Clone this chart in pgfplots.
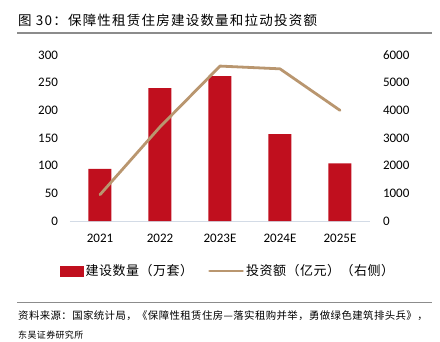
\documentclass[border=0pt]{standalone}
\usepackage{pgfplots}
\pgfplotsset{compat=1.18}
\usepackage{fontspec}
\setmainfont{Carlito}
\newfontfamily\cjk{Noto Sans CJK SC}
\newfontfamily\cjkwide[LetterSpace=9]{Noto Sans CJK SC}
\newfontfamily\cjkmid[LetterSpace=4]{Noto Sans CJK SC}
\definecolor{barred}{HTML}{C00F1E}
\definecolor{linetan}{HTML}{B9966F}
\definecolor{axisgray}{HTML}{D3DBE6}
\begin{document}
\begin{tikzpicture}[x=1pt,y=1pt]
\path[use as bounding box] (0,0) rectangle (440,341);
\node[anchor=west, inner sep=0pt, font=\cjkwide\fontsize{13.5}{13.5}\selectfont] at (18,321) {图 30：保障性租赁住房建设数量和拉动投资额};
\draw[black!45, line width=1.2pt] (17,308) -- (432,308);
\draw[black!45, line width=1.2pt] (17,38.5) -- (432,38.5);
\node[anchor=west, inner sep=0pt, font=\cjkmid\fontsize{10.4}{10.4}\selectfont] at (18,25) {资料来源：国家统计局，《保障性租赁住房—落实租购并举，勇做绿色建筑排头兵》，};
\node[anchor=west, inner sep=0pt, font=\cjkmid\fontsize{9}{9}\selectfont] at (18,6) {东吴证券研究所};
\begin{axis}[
  at={(70pt,120pt)}, anchor=south west,
  scale only axis, width=300pt, height=166pt,
  xmin=-0.5, xmax=4.5, ymin=0, ymax=300,
  ytick={0,50,...,300},
  xtick={0,1,2,3,4},
  xticklabels={2021,2022,2023E,2024E,2025E},
  major tick length=0pt,
  axis x line*=bottom, axis y line*=left,
  x axis line style={axisgray, line width=0.9pt, -},
  y axis line style={draw=none},
  tick label style={font=\fontsize{13}{13}\selectfont, black},
  /pgf/number format/assume math mode=true,
  yticklabel style={xshift=-8.5pt},
  xticklabel style={yshift=-10pt},
  clip=false,
]
\addplot[ybar, bar width=23pt, fill=barred, draw=none] coordinates {(0,94) (1,240) (2,262) (3,157) (4,104)};
\end{axis}
\begin{axis}[
  at={(70pt,120pt)}, anchor=south west,
  scale only axis, width=300pt, height=166pt,
  xmin=-0.5, xmax=4.5, ymin=0, ymax=6000,
  ytick={0,1000,...,6000},
  scaled y ticks=false,
  /pgf/number format/1000 sep={},
  /pgf/number format/assume math mode=true,
  major tick length=0pt,
  axis y line*=right, axis x line=none,
  y axis line style={draw=none},
  tick label style={font=\fontsize{13}{13}\selectfont, black},
  yticklabel style={xshift=9.5pt},
  clip=false,
  legend columns=2,
  legend style={at={(-10pt,-50pt)}, anchor=west, draw=none, fill=none,
    inner xsep=0pt, inner ysep=0pt,
    font=\cjkmid\fontsize{13}{13}\selectfont,
    /tikz/every even column/.append style={column sep=13pt}},
]
\addlegendimage{legend image code/.code={\fill[barred] (0pt,-4.8pt) rectangle (23pt,4.8pt);}}
\addlegendentry{建设数量（万套）}
\addplot[linetan, line width=2.8pt, line join=round, line cap=round, legend image code/.code={\draw[linetan, line width=2.8pt] (0pt,0pt) -- (33pt,0pt);}] coordinates {(0,950) (1,3400) (2,5600) (3,5500) (4,4000)};
\addlegendentry{投资额（亿元）（右侧）}
\end{axis}
\end{tikzpicture}
\end{document}
